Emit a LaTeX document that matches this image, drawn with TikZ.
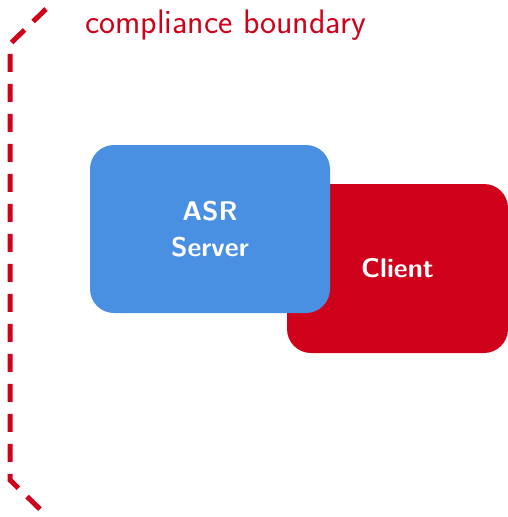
\documentclass[tikz,border=0pt]{standalone}
\usepackage{xcolor}
\definecolor{boundred}{HTML}{D0021B}
\definecolor{serverblue}{HTML}{4A90E2}
\tikzset{
  x=1pt, y=-1pt,
  box/.style={rounded corners=24pt, inner sep=0pt, text=white,
    font=\fontsize{27}{36}\selectfont\sffamily\bfseries, align=center},
  boundary/.style={draw=boundred, line width=5pt, dash pattern=on 18pt off 12pt}
}
\begin{document}
\begin{tikzpicture}
  \useasboundingbox (0,0) rectangle (508,517);
  % client box sits behind the server box
  \node[box, fill=boundred, minimum width=221pt, minimum height=169pt]
    (client) at (397.5,268.5) {Client};
  \node[box, fill=serverblue, minimum width=240pt, minimum height=168pt]
    (server) at (210,229) {ASR\\Server};
  % dashed compliance boundary
  \coordinate (btop) at (46,9);
  \coordinate (bul) at (10,44);
  \coordinate (bll) at (10,480);
  \coordinate (bbot) at (46,515);
  \draw[boundary] (btop) -- (bul) -- (bll) -- (bbot);
  \node[anchor=base west, inner sep=0pt, text=boundred,
    font=\fontsize{34}{40}\selectfont\sffamily] (label) at (85,33)
    {compliance boundary};
\end{tikzpicture}
\end{document}
